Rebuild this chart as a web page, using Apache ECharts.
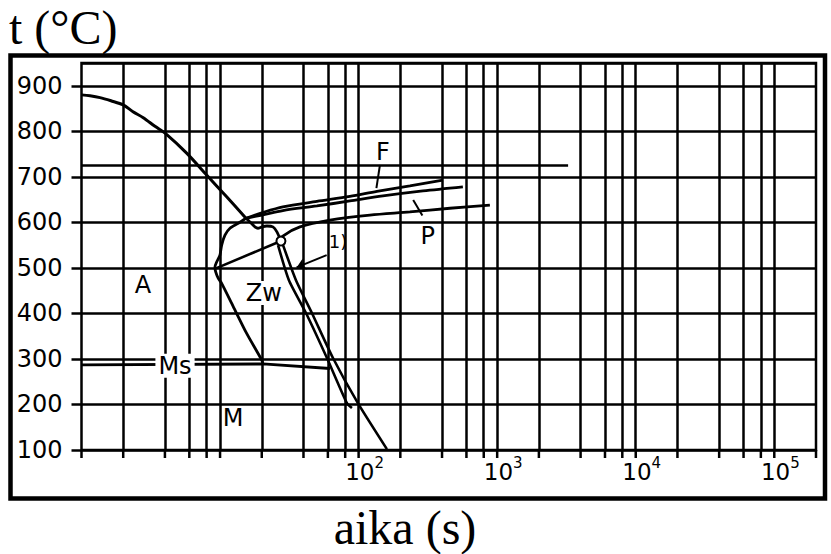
<!DOCTYPE html>
<html>
<head>
<meta charset="utf-8">
<script src="https://cdn.jsdelivr.net/npm/echarts@6/dist/echarts.min.js"></script>
<style>
  html, body { margin: 0; padding: 0; background: #fff; }
  #chart { width: 831px; height: 554px; }
</style>
</head>
<body>
<div id="chart"></div>
<script>
// Axis ranges: time in seconds (log scale), temperature in °C
const timeMin = 1;
const timeMax = 200000;
const tempMin = 100;
const tempMax = 950;
const tempStep = 100;

// Vertical grid lines at 2, 4, 6, 8 and 10 times each decade
const gridTimes = [2, 4, 6, 8, 10, 20, 40, 60, 80, 100, 200, 400, 600, 800, 1000,
  2000, 4000, 6000, 8000, 10000, 20000, 40000, 60000, 80000, 100000];
const tickTimes = [1].concat(gridTimes, [200000]);
// Decades that carry a "10^n" label
const xLabelTimes = [100, 1000, 10000, 100000];

// Curves as [time s, temperature °C]
const coolingCurve = [[1.0, 880], [1.152, 878], [1.36, 874], [1.632, 867], [2.0, 858],
  [2.353, 843], [2.79, 830], [3.39, 811], [4.05, 795], [5.74, 752], [8.0, 704],
  [11.16, 656], [15.38, 609]];
const ferriteStart = [[15.38, 609], [20.06, 621], [28.4, 634], [50, 646], [86.5, 657],
  [135.5, 668], [234.5, 680], [405.7, 693]];
const pearliteStart = [[15.38, 609], [20.06, 616], [28.4, 626], [50, 636], [86.5, 647],
  [149.7, 658], [291, 669], [565.5, 678]];
const pearliteEnd = [[27.5, 559], [28.4, 570], [37.7, 590], [62.1, 605], [120.6, 616],
  [234.5, 623], [455.7, 631], [885.8, 638]];
const noseNotch = [[15.38, 609], [16.43, 601], [17.86, 590], [18.77, 587], [20.06, 590],
  [21.8, 592], [24.08, 590], [25.73, 579], [27.5, 559]];
const bainiteStart = [[15.38, 609], [13.53, 598], [11.79, 587], [10.85, 572], [10.27, 550],
  [9.98, 528], [9.45, 513], [9.19, 502], [9.30, 491], [9.71, 477], [10.27, 466],
  [12.45, 415], [15.56, 356], [19.95, 298], [20.4, 289]];
const bainiteLower = [[9.34, 499], [27.5, 559]];
const criticalInner = [[26.2, 550], [31.4, 473], [41.7, 401], [59.1, 302], [82.3, 203], [89.5, 192]];
const criticalOuter = [[28.4, 551], [35.3, 473], [46.0, 401], [65.3, 302], [98.8, 203], [160, 102]];
const msLine = [[1, 287], [20.4, 289], [62.1, 279]];
const acLine = [[1, 725], [3250, 725]];
const nodePoint = [[27.5, 559]];
const fLeader = [[142.5, 726], [134.4, 675]];
const pLeader = [[247.7, 649], [288.6, 615]];
const noteArrow = [[58.8, 528], [35.7, 501]];

// Region and curve labels placed at [time, temperature]
const regionLabels = [
  { name: 'A', value: [2.78, 462] },
  { name: 'Zw', value: [20.7, 445] },
  { name: 'Ms', value: [4.73, 285] },
  { name: 'M', value: [12.4, 170] },
  { name: 'F', value: [150, 754] },
  { name: 'P', value: [316, 570] },
  { name: '1)', value: [70.9, 558] }
];

const SANS = '"DejaVu Sans", sans-serif';
const SERIF = '"Liberation Serif", "Times New Roman", serif';

function curve(name, data, width, smooth) {
  return {
    type: 'line', name: name, data: data,
    symbol: 'none', showSymbol: false, silent: true,
    smooth: smooth || false,
    lineStyle: { color: '#000', width: width || 2.8, opacity: 1 },
    z: 3
  };
}

function isLabelledDecade(v) {
  return xLabelTimes.some(function (x) { return Math.abs(Math.log10(x) - Math.log10(v)) < 1e-6; });
}

const gridSeries = curve('Ac', acLine, 2.6);
gridSeries.markLine = {
  silent: true,
  symbol: ['none', 'none'],
  label: { show: false },
  lineStyle: { color: '#000', width: 2.5, type: 'solid', opacity: 1 },
  data: gridTimes.map(function (v) { return { xAxis: v }; }),
  animation: false
};

const labelSeries = {
  type: 'scatter', name: 'labels', silent: true, z: 10,
  symbolSize: 0,
  itemStyle: { color: '#000', opacity: 1 },
  data: regionLabels.map(function (d) {
    const item = { name: d.name, value: d.value };
    if (d.name === '1)') item.label = { fontSize: 18 };
    if (d.name === 'Ms' || d.name === 'Zw') item.label = { backgroundColor: '#fff', padding: [0, 3] };
    return item;
  }),
  label: {
    show: true, position: 'inside', formatter: '{b}',
    fontFamily: SANS, fontSize: 24, color: '#000', opacity: 1,
    textBorderWidth: 0, textShadowBlur: 0
  }
};

const chart = echarts.init(document.getElementById('chart'), null, { renderer: 'svg' });
chart.setOption({
  animation: false,
  backgroundColor: '#fff',
  grid: {
    left: 81.5, right: 15, top: 63, bottom: 104,
    show: true, borderColor: '#000', borderWidth: 2.5,
    backgroundColor: 'transparent',
    outerBoundsMode: 'none'
  },
  xAxis: {
    type: 'log', logBase: 10, min: timeMin, max: timeMax,
    axisLine: { show: false },
    axisTick: { show: false },
    splitLine: { show: false },
    minorTick: { show: false },
    axisLabel: {
      margin: 5,
      padding: [0, 0, 0, 12],
      formatter: function (v) {
        if (!isLabelledDecade(v)) return '';
        return '{b|10}{s|' + Math.round(Math.log10(v)) + '}';
      },
      rich: {
        b: { fontFamily: SANS, fontSize: 23, color: '#000' },
        s: { fontFamily: SANS, fontSize: 15, color: '#000', padding: [0, 0, 18, 0] }
      }
    }
  },
  yAxis: {
    type: 'value', min: tempMin, max: tempMax, interval: tempStep,
    axisLine: { show: false },
    axisTick: { show: true, length: 10, lineStyle: { color: '#000', width: 2.5 } },
    splitLine: { show: true, lineStyle: { color: '#000', width: 2.5 } },
    axisLabel: {
      showMaxLabel: false,
      margin: 19, fontFamily: SANS, fontSize: 24, color: '#000'
    }
  },
  graphic: [
    {
      type: 'rect', silent: true, z: 100,
      shape: { x: 10.5, y: 55.5, width: 814.5, height: 443 },
      style: { fill: 'none', stroke: '#000', lineWidth: 4.5 }
    },
    {
      type: 'text', silent: true, x: 9, y: 27,
      style: { text: 't (°C)', fontFamily: SERIF, fontSize: 48, fill: '#000', verticalAlign: 'middle' }
    },
    {
      type: 'text', silent: true, x: 405, y: 527,
      style: { text: 'aika (s)', fontFamily: SERIF, fontSize: 48, fill: '#000', align: 'center', verticalAlign: 'middle' }
    }
  ],
  series: [
    gridSeries,
    curve('cooling', coolingCurve, 3, 0.3),
    curve('F', ferriteStart, 2.8, 0.3),
    curve('Ps', pearliteStart, 2.8, 0.3),
    curve('P', pearliteEnd, 2.8, 0.3),
    curve('notch', noseNotch, 2.8, 0.2),
    curve('Zw', bainiteStart, 2.8, 0.25),
    curve('Zw lower', bainiteLower, 2.6),
    curve('critical 1', criticalInner, 2.6, 0.2),
    curve('critical 2', criticalOuter, 2.6, 0.2),
    curve('Ms', msLine, 2.8),
    curve('F leader', fLeader, 2),
    curve('P leader', pLeader, 2),
    {
      type: 'lines', coordinateSystem: 'cartesian2d', silent: true, z: 4,
      symbol: ['none', 'arrow'], symbolSize: 9,
      lineStyle: { color: '#000', width: 2, opacity: 1 },
      data: [{ coords: noteArrow }]
    },
    {
      type: 'scatter', name: 'ticks', silent: true, clip: false, z: 4,
      symbol: 'rect', symbolSize: [2.5, 8], symbolOffset: [0, 4],
      itemStyle: { color: '#000', opacity: 1 },
      data: tickTimes.map(function (t) { return [t, tempMin]; })
    },
    {
      type: 'scatter', name: 'node', silent: true, z: 10,
      symbol: 'circle', symbolSize: 9,
      itemStyle: { color: '#fff', borderColor: '#000', borderWidth: 2, opacity: 1 },
      data: nodePoint
    },
    labelSeries
  ]
});
</script>
</body>
</html>
